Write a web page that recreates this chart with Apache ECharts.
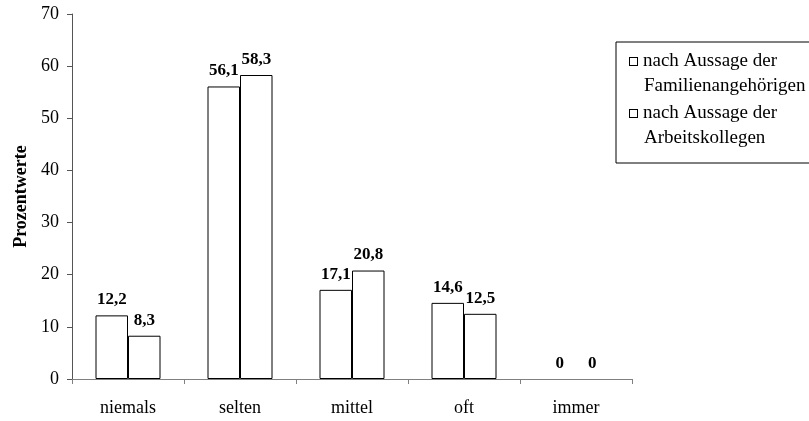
<!DOCTYPE html>
<html>
<head>
<meta charset="utf-8">
<script src="https://cdn.jsdelivr.net/npm/echarts@6/dist/echarts.min.js"></script>
<style>
  html, body { margin: 0; padding: 0; background: #fff; }
  #chart { width: 809px; height: 421px; }
</style>
</head>
<body>
<div id="chart"></div>
<script>
// Häufigkeitskategorien auf der x-Achse
const categories = ['niemals', 'selten', 'mittel', 'oft', 'immer'];

// Prozentwerte je Quelle
const familienangehoerige = [12.2, 56.1, 17.1, 14.6, 0];
const arbeitskollegen = [8.3, 58.3, 20.8, 12.5, 0];

// Legendentexte (erste und zweite Zeile)
const seriesNames = ['Familienangehörigen', 'Arbeitskollegen'];
const legendPrefix = 'nach Aussage der';

// y-Achse
const yMin = 0, yMax = 70, yStep = 10;

const serif = '"Liberation Serif", "Times New Roman", serif';

const chart = echarts.init(document.getElementById('chart'), null, { renderer: 'canvas' });

const barLabel = {
  show: true,
  position: 'top',
  distance: 7,
  fontFamily: serif,
  fontSize: 17,
  fontWeight: 'bold',
  color: '#000',
  formatter: p => String(p.value).replace('.', ',')
};

const barStyle = { color: '#fff', borderColor: '#000', borderWidth: 1 };

// Balken mit Wert 0 ohne Umrandung, damit keine Linie über der Achse liegt
const toBarData = values => values.map(v => (v === 0 ? { value: v, itemStyle: { borderWidth: 0 } } : v));

chart.setOption({
  animation: false,
  backgroundColor: '#fff',
  grid: { left: 72, right: 177, top: 14, bottom: 42, containLabel: false, outerBoundsMode: 'none' },
  legend: {
    orient: 'vertical',
    left: 616,
    top: 42,
    icon: 'none',
    itemWidth: 0,
    itemHeight: 8,
    itemGap: 2,
    padding: [7, 12, 12, 9],
    borderColor: '#000',
    borderWidth: 1,
    backgroundColor: '#fff',
    selectedMode: false,
    formatter: name => '{box|}{gap|}' + legendPrefix + '\n{ind|}' + name,
    textStyle: {
      fontFamily: serif,
      fontSize: 19,
      color: '#000',
      lineHeight: 25,
      rich: {
        box: { width: 7, height: 7, borderColor: '#000', borderWidth: 1, backgroundColor: '#fff' },
        gap: { width: 6 },
        ind: { width: 14 }
      }
    },
    data: seriesNames
  },
  xAxis: {
    type: 'category',
    data: categories,
    axisLine: { lineStyle: { color: '#808080', width: 1 } },
    axisTick: { show: true, length: 5, lineStyle: { color: '#808080' } },
    axisLabel: { margin: 20, fontFamily: serif, fontSize: 18, color: '#000' }
  },
  yAxis: {
    type: 'value',
    min: yMin,
    max: yMax,
    interval: yStep,
    name: 'Prozentwerte',
    nameLocation: 'middle',
    nameGap: 42,
    nameRotate: 90,
    nameTextStyle: { fontFamily: serif, fontSize: 18, fontWeight: 'bold', color: '#000' },
    axisLine: { show: true, lineStyle: { color: '#555', width: 1 } },
    axisTick: { show: true, length: 5, lineStyle: { color: '#555' } },
    axisLabel: { margin: 13, fontFamily: serif, fontSize: 18, color: '#000' },
    splitLine: { show: false }
  },
  series: [
    {
      name: seriesNames[0],
      type: 'bar',
      data: toBarData(familienangehoerige),
      barWidth: 32.5,
      barGap: '0%',
      itemStyle: barStyle,
      label: barLabel
    },
    {
      name: seriesNames[1],
      type: 'bar',
      data: toBarData(arbeitskollegen),
      barWidth: 32.5,
      barGap: '0%',
      itemStyle: barStyle,
      label: barLabel
    }
  ]
});
</script>
</body>
</html>
